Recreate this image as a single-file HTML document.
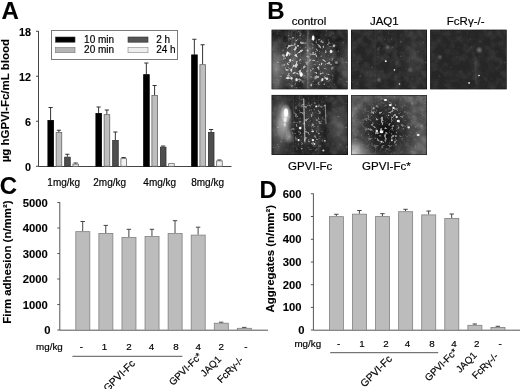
<!DOCTYPE html>
<html><head><meta charset="utf-8"><style>
html,body{margin:0;padding:0;background:#fff;}
svg{display:block;will-change:transform;}
text{stroke:#000;stroke-width:0.18px;paint-order:stroke;}
text[font-weight=bold]{stroke-width:0.1px;}
</style></head><body>
<svg width="520" height="389" viewBox="0 0 520 389" font-family='Liberation Sans'>
<defs>
<radialGradient id='gw'><stop offset='0' stop-color='#fff' stop-opacity='1'/><stop offset='0.5' stop-color='#fff' stop-opacity='0.5'/><stop offset='1' stop-color='#fff' stop-opacity='0'/></radialGradient>
<radialGradient id='gw2'><stop offset='0' stop-color='#fff' stop-opacity='1'/><stop offset='0.6' stop-color='#fff' stop-opacity='0.8'/><stop offset='1' stop-color='#fff' stop-opacity='0'/></radialGradient>
<radialGradient id='gk'><stop offset='0' stop-color='#000' stop-opacity='1'/><stop offset='0.5' stop-color='#000' stop-opacity='0.6'/><stop offset='1' stop-color='#000' stop-opacity='0'/></radialGradient>
<filter id='nz0' x='0' y='0' width='100%' height='100%'><feTurbulence type='fractalNoise' baseFrequency='0.25 0.06' numOctaves='2' seed='2'/><feColorMatrix type='matrix' values='0 0 0 0 1  0 0 0 0 1  0 0 0 0 1  1.6 0 0 0 -0.55'/><feGaussianBlur stdDeviation='0.5'/></filter>
<filter id='nz1' x='0' y='0' width='100%' height='100%'><feTurbulence type='fractalNoise' baseFrequency='0.25 0.06' numOctaves='2' seed='3'/><feColorMatrix type='matrix' values='0 0 0 0 1  0 0 0 0 1  0 0 0 0 1  1.6 0 0 0 -0.55'/><feGaussianBlur stdDeviation='0.5'/></filter>
<filter id='nz2' x='0' y='0' width='100%' height='100%'><feTurbulence type='fractalNoise' baseFrequency='0.25 0.06' numOctaves='2' seed='4'/><feColorMatrix type='matrix' values='0 0 0 0 1  0 0 0 0 1  0 0 0 0 1  1.6 0 0 0 -0.55'/><feGaussianBlur stdDeviation='0.5'/></filter>
<filter id='nzm' x='0' y='0' width='100%' height='100%'><feTurbulence type='fractalNoise' baseFrequency='0.12' numOctaves='3' seed='7'/><feColorMatrix type='matrix' values='0 0 0 0 1  0 0 0 0 1  0 0 0 0 1  2.2 0 0 0 -0.85'/><feGaussianBlur stdDeviation='0.6'/></filter>
<filter id='blall' x='-5%' y='-5%' width='110%' height='110%'><feGaussianBlur stdDeviation='0.4'/></filter>
<filter id='bl5' x='-20%' y='-20%' width='140%' height='140%'><feGaussianBlur stdDeviation='0.6'/></filter>
<filter id='bl6' x='-20%' y='-20%' width='140%' height='140%'><feGaussianBlur stdDeviation='0.7'/></filter>
<filter id='s1' x='0' y='0' width='100%' height='100%'><feTurbulence type='fractalNoise' baseFrequency='0.26' numOctaves='3' seed='11' result='n'/><feColorMatrix in='n' type='matrix' values='0 0 0 0 1 0 0 0 0 1 0 0 0 0 1 8 0 0 0 -4.5' result='t'/><feComposite in='t' in2='SourceGraphic' operator='in'/><feGaussianBlur stdDeviation='0.6'/></filter>
<filter id='s1b' x='0' y='0' width='100%' height='100%'><feTurbulence type='fractalNoise' baseFrequency='0.3' numOctaves='3' seed='12' result='n'/><feColorMatrix in='n' type='matrix' values='0 0 0 0 1 0 0 0 0 1 0 0 0 0 1 8 0 0 0 -4.6' result='t'/><feComposite in='t' in2='SourceGraphic' operator='in'/><feGaussianBlur stdDeviation='0.6'/></filter>
<filter id='s2' x='0' y='0' width='100%' height='100%'><feTurbulence type='fractalNoise' baseFrequency='0.35' numOctaves='2' seed='13' result='n'/><feColorMatrix in='n' type='matrix' values='0 0 0 0 1 0 0 0 0 1 0 0 0 0 1 10 0 0 0 -7.2' result='t'/><feComposite in='t' in2='SourceGraphic' operator='in'/><feGaussianBlur stdDeviation='0.6'/></filter>
<filter id='s4' x='0' y='0' width='100%' height='100%'><feTurbulence type='fractalNoise' baseFrequency='0.3' numOctaves='3' seed='14' result='n'/><feColorMatrix in='n' type='matrix' values='0 0 0 0 1 0 0 0 0 1 0 0 0 0 1 8 0 0 0 -4.7' result='t'/><feComposite in='t' in2='SourceGraphic' operator='in'/><feGaussianBlur stdDeviation='0.6'/></filter>
<filter id='s5' x='0' y='0' width='100%' height='100%'><feTurbulence type='fractalNoise' baseFrequency='0.3' numOctaves='3' seed='15' result='n'/><feColorMatrix in='n' type='matrix' values='0 0 0 0 1 0 0 0 0 1 0 0 0 0 1 8 0 0 0 -4.6' result='t'/><feComposite in='t' in2='SourceGraphic' operator='in'/><feGaussianBlur stdDeviation='0.6'/></filter>
<filter id='s5b' x='0' y='0' width='100%' height='100%'><feTurbulence type='fractalNoise' baseFrequency='0.3' numOctaves='3' seed='16' result='n'/><feColorMatrix in='n' type='matrix' values='0 0 0 0 1 0 0 0 0 1 0 0 0 0 1 10 0 0 0 -6.6' result='t'/><feComposite in='t' in2='SourceGraphic' operator='in'/><feGaussianBlur stdDeviation='0.6'/></filter>
<clipPath id='ci1'><rect width='76.4' height='60'/></clipPath>
<g id='i1' clip-path='url(#ci1)'><g filter='url(#blall)'>
<rect width='76.4' height='60' fill='#1e1e1e'/>
<rect width='76.4' height='60' filter='url(#nzm)' opacity='0.14'/>
<ellipse cx='5' cy='40' rx='14' ry='36' fill='url(#gw)' opacity='0.42'/>
<ellipse cx='22' cy='32' rx='13' ry='32' fill='url(#gw)' opacity='0.28'/>
<ellipse cx='37' cy='34' rx='9' ry='42' fill='url(#gw)' opacity='0.3'/>
<ellipse cx='53' cy='36' rx='14' ry='30' fill='url(#gw)' opacity='0.22'/>
<ellipse cx='74' cy='38' rx='10' ry='30' fill='url(#gw)' opacity='0.22'/>
<g filter='url(#bl6)'>
<line x1='20.5' y1='2' x2='20.5' y2='58' stroke='#fff' stroke-width='0.8' opacity='0.14' stroke-linecap='round'/>
<line x1='23.8' y1='0' x2='23.8' y2='59' stroke='#fff' stroke-width='0.7' opacity='0.12' stroke-linecap='round'/>
<line x1='36.5' y1='0' x2='36.5' y2='59' stroke='#fff' stroke-width='1.0' opacity='0.25' stroke-linecap='round'/>
<line x1='38.5' y1='10' x2='38.5' y2='59' stroke='#fff' stroke-width='0.7' opacity='0.12' stroke-linecap='round'/>
<line x1='29' y1='0' x2='29' y2='30' stroke='#fff' stroke-width='0.6' opacity='0.08' stroke-linecap='round'/>
<line x1='17' y1='0' x2='17' y2='40' stroke='#fff' stroke-width='0.6' opacity='0.08' stroke-linecap='round'/>
</g>
<ellipse cx='24' cy='30' rx='15' ry='33' fill='url(#gw2)' filter='url(#s1)' opacity='0.8'/>
<ellipse cx='50' cy='32' rx='15' ry='31' fill='url(#gw2)' filter='url(#s1b)' opacity='0.7'/>
<rect x='0' y='0' width='76.4' height='60' fill='#fff' filter='url(#s2)' opacity='0.3'/>
<g filter='url(#bl5)' fill='#fff'>
<ellipse cx='41.8' cy='8.5' rx='1.3' ry='2.7' opacity='1'/>
<ellipse cx='15.8' cy='24.5' rx='1.1' ry='2.6' opacity='0.95' transform='rotate(15 15.8 24.5)'/>
<ellipse cx='18.8' cy='30.8' rx='1.0' ry='1.5' opacity='0.85'/>
<ellipse cx='19.8' cy='40.5' rx='1.0' ry='1.6' opacity='0.8'/>
<ellipse cx='29.8' cy='45.2' rx='1.6' ry='2.1' opacity='1'/>
<ellipse cx='25.2' cy='50.2' rx='1.2' ry='1.6' opacity='0.9'/>
<ellipse cx='16.5' cy='48.6' rx='2.1' ry='1.1' opacity='0.85'/>
<ellipse cx='20' cy='49' rx='1.2' ry='1' opacity='0.7'/>
<ellipse cx='59.7' cy='22' rx='1.4' ry='1.8' opacity='0.9'/>
<ellipse cx='62.6' cy='16.2' rx='1.3' ry='1.3' opacity='0.65'/>
<ellipse cx='51' cy='50' rx='1.0' ry='1.5' opacity='0.9'/>
<ellipse cx='55.6' cy='49.3' rx='1.2' ry='1.2' opacity='0.85'/>
<ellipse cx='36.2' cy='21' rx='1.0' ry='1.0' opacity='0.6'/>
<ellipse cx='11.8' cy='25.8' rx='1.3' ry='1.3' opacity='0.5'/>
<ellipse cx='65' cy='33' rx='1.6' ry='1.6' opacity='0.4'/>
<ellipse cx='23.4' cy='14.6' rx='0.9' ry='0.9' opacity='0.6'/>
<ellipse cx='39.8' cy='55.5' rx='0.8' ry='1.6' opacity='0.65'/>
</g>
</g>
<rect x='0.4' y='0.4' width='75.60000000000001' height='59.2' fill='none' stroke='#111' stroke-width='0.8' opacity='0.7'/>
</g>
<clipPath id='ci2'><rect width='76' height='60'/></clipPath>
<g id='i2' clip-path='url(#ci2)'><g filter='url(#blall)'>
<rect width='76' height='60' fill='#272727'/>
<rect width='76' height='60' filter='url(#nzm)' opacity='0.1'/>
<ellipse cx='64' cy='30' rx='16' ry='34' fill='url(#gw)' opacity='0.08'/>
<ellipse cx='20' cy='45' rx='14' ry='14' fill='url(#gw)' opacity='0.05'/>
<ellipse cx='36.7' cy='17.8' rx='2.8' ry='2.8' fill='url(#gw)' opacity='0.28'/>
<ellipse cx='28' cy='50.3' rx='2.8' ry='2.8' fill='url(#gw)' opacity='0.28'/>
<ellipse cx='59.4' cy='40.4' rx='3.2' ry='3.2' fill='url(#gw)' opacity='0.2'/>
<ellipse cx='27.3' cy='19.7' rx='2.2' ry='2.2' fill='url(#gw)' opacity='0.18'/>
<g filter='url(#bl6)'>
<line x1='24' y1='0' x2='24' y2='59' stroke='#fff' stroke-width='0.8' opacity='0.05' stroke-linecap='round'/>
<line x1='45' y1='0' x2='45' y2='59' stroke='#fff' stroke-width='0.8' opacity='0.05' stroke-linecap='round'/>
</g>
<rect x='0' y='0' width='76' height='60' fill='#fff' filter='url(#s2)' opacity='0.15'/>
<g filter='url(#bl5)' fill='#fff'>
<circle cx='34.8' cy='31.7' r='0.9' opacity='1'/>
<circle cx='43.4' cy='40.4' r='0.8' opacity='0.9'/>
<circle cx='48.5' cy='54.5' r='0.8' opacity='0.95'/>
</g>
</g>
<rect x='0.4' y='0.4' width='75.2' height='59.2' fill='none' stroke='#111' stroke-width='0.8' opacity='0.7'/>
</g>
<clipPath id='ci3'><rect width='76.7' height='60'/></clipPath>
<g id='i3' clip-path='url(#ci3)'><g filter='url(#blall)'>
<rect width='76.7' height='60' fill='#262626'/>
<rect width='76.7' height='60' filter='url(#nzm)' opacity='0.08'/>
<ellipse cx='49.2' cy='20.4' rx='3.8' ry='3.8' fill='url(#gw)' opacity='0.38'/>
<ellipse cx='10' cy='27.5' rx='2.8' ry='2.8' fill='url(#gw)' opacity='0.25'/>
<ellipse cx='46' cy='40' rx='6' ry='14' fill='url(#gw)' opacity='0.06'/>
<g filter='url(#bl6)'>
<line x1='45' y1='28' x2='46' y2='54' stroke='#fff' stroke-width='1.4' opacity='0.06' stroke-linecap='round'/>
</g>
<rect x='0' y='0' width='76.7' height='60' fill='#fff' filter='url(#s2)' opacity='0.08'/>
<g filter='url(#bl5)' fill='#fff'>
<circle cx='48.9' cy='46' r='0.8' opacity='1'/>
<circle cx='39' cy='53.4' r='0.9' opacity='0.9'/>
</g>
</g>
<rect x='0.4' y='0.4' width='75.9' height='59.2' fill='none' stroke='#111' stroke-width='0.8' opacity='0.7'/>
</g>
<clipPath id='ci4'><rect width='76.6' height='60.2'/></clipPath>
<g id='i4' clip-path='url(#ci4)'><g filter='url(#blall)'>
<rect width='76.6' height='60.2' fill='#232323'/>
<rect width='76.6' height='60.2' filter='url(#nzm)' opacity='0.12'/>
<ellipse cx='8' cy='32' rx='12' ry='40' fill='url(#gw)' opacity='0.32'/>
<ellipse cx='13' cy='27' rx='9' ry='22' fill='url(#gw)' opacity='0.6'/>
<ellipse cx='14.5' cy='19' rx='6' ry='10' fill='url(#gw)' opacity='0.85'/>
<ellipse cx='18' cy='42' rx='5' ry='8' fill='url(#gw)' opacity='0.45'/>
<ellipse cx='40' cy='30' rx='14' ry='30' fill='url(#gw)' opacity='0.08'/>
<ellipse cx='68' cy='32' rx='14' ry='34' fill='url(#gw)' opacity='0.22'/>
<g filter='url(#bl6)'>
<line x1='32.3' y1='4' x2='33.5' y2='47' stroke='#fff' stroke-width='1.3' opacity='0.55' stroke-linecap='round'/>
<line x1='53.8' y1='10' x2='54.6' y2='29' stroke='#fff' stroke-width='1.1' opacity='0.4' stroke-linecap='round'/>
<line x1='22' y1='0' x2='22' y2='59' stroke='#fff' stroke-width='0.6' opacity='0.12' stroke-linecap='round'/>
<line x1='47' y1='0' x2='47' y2='59' stroke='#fff' stroke-width='0.6' opacity='0.1' stroke-linecap='round'/>
<line x1='28' y1='0' x2='28' y2='20' stroke='#fff' stroke-width='0.6' opacity='0.12' stroke-linecap='round'/>
</g>
<ellipse cx='37' cy='30' rx='22' ry='34' fill='url(#gw2)' filter='url(#s4)' opacity='0.5'/>
<rect x='0' y='0' width='76.6' height='60.2' fill='#fff' filter='url(#s2)' opacity='0.25'/>
<g filter='url(#bl5)' fill='#fff'>
<ellipse cx='14.6' cy='18' rx='2.0' ry='4.2' opacity='1'/>
<ellipse cx='13.8' cy='25' rx='1.6' ry='2.5' opacity='0.7'/>
<ellipse cx='13.5' cy='30' rx='1.3' ry='2' opacity='0.5'/>
<circle cx='28.8' cy='33.3' r='1.3' opacity='1'/>
<circle cx='27.2' cy='45.3' r='1.1' opacity='0.95'/>
<circle cx='41.5' cy='45.3' r='1.2' opacity='0.95'/>
<circle cx='44.7' cy='11.8' r='1' opacity='0.85'/>
<circle cx='43.1' cy='49.2' r='0.9' opacity='0.85'/>
<circle cx='53.5' cy='46' r='0.9' opacity='0.75'/>
<circle cx='51.9' cy='55.6' r='1' opacity='0.75'/>
<circle cx='30.4' cy='54' r='0.8' opacity='0.65'/>
<circle cx='45.5' cy='25.3' r='0.8' opacity='0.75'/>
<circle cx='41.5' cy='36.5' r='0.9' opacity='0.75'/>
<circle cx='53.5' cy='11' r='0.8' opacity='0.65'/>
</g>
</g>
<rect x='0.4' y='0.4' width='75.8' height='59.400000000000006' fill='none' stroke='#111' stroke-width='0.8' opacity='0.7'/>
</g>
<clipPath id='ci5'><rect width='76.2' height='60.2'/></clipPath>
<g id='i5' clip-path='url(#ci5)'><g filter='url(#blall)'>
<rect width='76.2' height='60.2' fill='#4e4e4e'/>
<rect width='76.2' height='60.2' filter='url(#nzm)' opacity='0.2'/>
<ellipse cx='35' cy='34' rx='32' ry='40' fill='url(#gk)' opacity='0.75'/>
<ellipse cx='33' cy='42' rx='16' ry='20' fill='url(#gk)' opacity='0.35'/>
<ellipse cx='2' cy='58' rx='18' ry='16' fill='url(#gw)' opacity='0.65'/>
<ellipse cx='14' cy='63' rx='24' ry='5' fill='url(#gw)' opacity='0.5'/>
<ellipse cx='70' cy='52' rx='10' ry='14' fill='url(#gw)' opacity='0.1'/>
<ellipse cx='2' cy='18' rx='8' ry='20' fill='url(#gw)' opacity='0.08'/>
<ellipse cx='40' cy='2' rx='20' ry='4' fill='url(#gw)' opacity='0.15'/>
<ellipse cx='34' cy='30' rx='25' ry='30' fill='url(#gw2)' filter='url(#s5)' opacity='0.6'/>
<rect x='0' y='0' width='76.2' height='60.2' fill='#fff' filter='url(#s5b)' opacity='0.12'/>
<g filter='url(#bl5)' fill='#fff'>
<ellipse cx='34.6' cy='5.1' rx='1.7' ry='1.1' opacity='1'/>
<ellipse cx='39.4' cy='10.2' rx='1.5' ry='1.1' opacity='0.95'/>
<ellipse cx='42.6' cy='13' rx='1.2' ry='1.1' opacity='0.95'/>
<ellipse cx='45.8' cy='22.1' rx='1.2' ry='1.1' opacity='0.9'/>
<ellipse cx='47.4' cy='26.1' rx='1.6' ry='1.3' opacity='0.95'/>
<ellipse cx='30.6' cy='37' rx='1.9' ry='1.3' opacity='0.95'/>
<ellipse cx='25.9' cy='36' rx='1.2' ry='1.2' opacity='0.9'/>
<ellipse cx='57.8' cy='32.5' rx='1.3' ry='1.1' opacity='0.85'/>
<ellipse cx='67.3' cy='40.1' rx='1.5' ry='1.1' opacity='0.95'/>
<ellipse cx='30.6' cy='46.8' rx='1.1' ry='1' opacity='0.85'/>
<ellipse cx='41' cy='45.3' rx='1' ry='1' opacity='0.85'/>
<ellipse cx='22.7' cy='13.4' rx='1' ry='1' opacity='0.65'/>
</g>
</g>
<rect x='0.4' y='0.4' width='75.4' height='59.400000000000006' fill='none' stroke='#111' stroke-width='0.8' opacity='0.7'/>
</g>
</defs>
<rect width="520" height="389" fill="#fff"/>
<text x='1.5' y='19.3' font-size='24' font-weight='bold' text-anchor='start' fill='#000' >A</text>
<line x1='38.5' y1='31' x2='38.5' y2='166.5' stroke='#444' stroke-width='1'/>
<line x1='36.0' y1='31.25' x2='38.5' y2='31.25' stroke='#444' stroke-width='1'/>
<text x='31' y='35.55' font-size='10.8' font-weight='bold' text-anchor='end' fill='#000' >18</text>
<line x1='36.0' y1='76.25' x2='38.5' y2='76.25' stroke='#444' stroke-width='1'/>
<text x='31' y='80.55' font-size='10.8' font-weight='bold' text-anchor='end' fill='#000' >12</text>
<line x1='36.0' y1='121.25' x2='38.5' y2='121.25' stroke='#444' stroke-width='1'/>
<text x='31' y='125.55' font-size='10.8' font-weight='bold' text-anchor='end' fill='#000' >6</text>
<line x1='36.0' y1='166.25' x2='38.5' y2='166.25' stroke='#444' stroke-width='1'/>
<text x='31' y='170.55' font-size='10.8' font-weight='bold' text-anchor='end' fill='#000' >0</text>
<line x1='38.5' y1='166.5' x2='231.5' y2='166.5' stroke='#444' stroke-width='1'/>
<text transform='translate(9.3,100.6) rotate(-90)' font-size='11.4' font-weight='bold' text-anchor='middle' textLength='123.5' lengthAdjust='spacingAndGlyphs'>µg hGPVI-Fc/mL blood</text>
<rect x='51.5' y='30.5' width='126' height='29' fill='#fff' stroke='#7a7a7a' stroke-width='1'/>
<rect x='55.5' y='37' width='19.5' height='5.2' fill='#000' stroke='#333' stroke-width='0.6'/>
<rect x='55.5' y='47.5' width='19.5' height='5.2' fill='#b4b4b4' stroke='#777' stroke-width='0.6'/>
<rect x='128' y='37' width='20' height='5.2' fill='#555' stroke='#333' stroke-width='0.6'/>
<rect x='128' y='47.5' width='20' height='5.2' fill='#eee' stroke='#888' stroke-width='0.6'/>
<text x='84.1' y='43.4' font-size='10' text-anchor='start' fill='#000' >10 min</text>
<text x='84.1' y='53.3' font-size='10' text-anchor='start' fill='#000' >20 min</text>
<text x='156.2' y='43.4' font-size='10' text-anchor='start' fill='#000' >2 h</text>
<text x='156.2' y='53.3' font-size='10' text-anchor='start' fill='#000' >24 h</text>
<line x1='50.6' y1='107.5' x2='50.6' y2='120' stroke='#333' stroke-width='1'/>
<line x1='48.5' y1='107.5' x2='52.7' y2='107.5' stroke='#333' stroke-width='1'/>
<rect x='47.9' y='120.4' width='5.6' height='45.85' fill='#000' stroke='#000' stroke-width='0.8'/>
<line x1='58.85' y1='130.25' x2='58.85' y2='132' stroke='#333' stroke-width='1'/>
<line x1='56.75' y1='130.25' x2='60.95' y2='130.25' stroke='#333' stroke-width='1'/>
<rect x='56.15' y='132.4' width='5.6' height='33.85' fill='#bebebe' stroke='#666' stroke-width='0.8'/>
<line x1='67.35' y1='154.25' x2='67.35' y2='156.75' stroke='#333' stroke-width='1'/>
<line x1='65.25' y1='154.25' x2='69.44999999999999' y2='154.25' stroke='#333' stroke-width='1'/>
<rect x='64.65' y='157.15' width='5.6' height='9.1' fill='#4e4e4e' stroke='#333' stroke-width='0.8'/>
<line x1='75.6' y1='163' x2='75.6' y2='163.75' stroke='#333' stroke-width='1'/>
<line x1='73.5' y1='163' x2='77.69999999999999' y2='163' stroke='#333' stroke-width='1'/>
<rect x='72.9' y='164.15' width='5.6' height='2.1' fill='#f2f2f2' stroke='#666' stroke-width='0.8'/>
<line x1='98.6' y1='107' x2='98.6' y2='113' stroke='#333' stroke-width='1'/>
<line x1='96.5' y1='107' x2='100.69999999999999' y2='107' stroke='#333' stroke-width='1'/>
<rect x='95.9' y='113.4' width='5.6' height='52.85' fill='#000' stroke='#000' stroke-width='0.8'/>
<line x1='106.85' y1='110' x2='106.85' y2='114.25' stroke='#333' stroke-width='1'/>
<line x1='104.75' y1='110' x2='108.94999999999999' y2='110' stroke='#333' stroke-width='1'/>
<rect x='104.15' y='114.65' width='5.6' height='51.6' fill='#bebebe' stroke='#666' stroke-width='0.8'/>
<line x1='115.35' y1='132' x2='115.35' y2='140' stroke='#333' stroke-width='1'/>
<line x1='113.25' y1='132' x2='117.44999999999999' y2='132' stroke='#333' stroke-width='1'/>
<rect x='112.65' y='140.4' width='5.6' height='25.85' fill='#4e4e4e' stroke='#333' stroke-width='0.8'/>
<line x1='123.6' y1='157.5' x2='123.6' y2='158.25' stroke='#333' stroke-width='1'/>
<line x1='121.5' y1='157.5' x2='125.69999999999999' y2='157.5' stroke='#333' stroke-width='1'/>
<rect x='120.9' y='158.65' width='5.6' height='7.6' fill='#f2f2f2' stroke='#666' stroke-width='0.8'/>
<line x1='146.35' y1='63' x2='146.35' y2='74.25' stroke='#333' stroke-width='1'/>
<line x1='144.25' y1='63' x2='148.45' y2='63' stroke='#333' stroke-width='1'/>
<rect x='143.65' y='74.65' width='5.6' height='91.6' fill='#000' stroke='#000' stroke-width='0.8'/>
<line x1='154.6' y1='85.5' x2='154.6' y2='95' stroke='#333' stroke-width='1'/>
<line x1='152.5' y1='85.5' x2='156.7' y2='85.5' stroke='#333' stroke-width='1'/>
<rect x='151.9' y='95.4' width='5.6' height='70.85' fill='#bebebe' stroke='#666' stroke-width='0.8'/>
<line x1='163.1' y1='146' x2='163.1' y2='146.75' stroke='#333' stroke-width='1'/>
<line x1='161.0' y1='146' x2='165.2' y2='146' stroke='#333' stroke-width='1'/>
<rect x='160.4' y='147.15' width='5.6' height='19.1' fill='#4e4e4e' stroke='#333' stroke-width='0.8'/>
<rect x='168.65' y='163.65' width='5.6' height='2.6' fill='#f2f2f2' stroke='#666' stroke-width='0.8'/>
<line x1='194.35' y1='39.25' x2='194.35' y2='54.5' stroke='#333' stroke-width='1'/>
<line x1='192.25' y1='39.25' x2='196.45' y2='39.25' stroke='#333' stroke-width='1'/>
<rect x='191.65' y='54.9' width='5.6' height='111.35' fill='#000' stroke='#000' stroke-width='0.8'/>
<line x1='202.6' y1='44.75' x2='202.6' y2='64.25' stroke='#333' stroke-width='1'/>
<line x1='200.5' y1='44.75' x2='204.7' y2='44.75' stroke='#333' stroke-width='1'/>
<rect x='199.9' y='64.65' width='5.6' height='101.6' fill='#bebebe' stroke='#666' stroke-width='0.8'/>
<line x1='211.1' y1='129.5' x2='211.1' y2='132' stroke='#333' stroke-width='1'/>
<line x1='209.0' y1='129.5' x2='213.2' y2='129.5' stroke='#333' stroke-width='1'/>
<rect x='208.4' y='132.4' width='5.6' height='33.85' fill='#4e4e4e' stroke='#333' stroke-width='0.8'/>
<line x1='219.35' y1='160' x2='219.35' y2='160.5' stroke='#333' stroke-width='1'/>
<line x1='217.25' y1='160' x2='221.45' y2='160' stroke='#333' stroke-width='1'/>
<rect x='216.65' y='160.9' width='5.6' height='5.35' fill='#f2f2f2' stroke='#666' stroke-width='0.8'/>
<text x='63.75' y='186.0' font-size='10' text-anchor='middle' fill='#000' >1mg/kg</text>
<text x='109.7' y='186.0' font-size='10' text-anchor='middle' fill='#000' >2mg/kg</text>
<text x='159.75' y='186.0' font-size='10' text-anchor='middle' fill='#000' >4mg/kg</text>
<text x='207.6' y='186.0' font-size='10' text-anchor='middle' fill='#000' >8mg/kg</text>
<text x='267.3' y='18.8' font-size='24' font-weight='bold' text-anchor='start' fill='#000' >B</text>
<text x='309.05' y='24.85' font-size='11.5' text-anchor='middle' fill='#000' >control</text>
<text x='384.35' y='24.85' font-size='11.5' text-anchor='middle' fill='#000' >JAQ1</text>
<text x='465.65' y='24.85' font-size='11.5' text-anchor='middle' fill='#000' >FcRγ-/-</text>
<text x='310.25' y='170.0' font-size='11.55' text-anchor='middle' fill='#000' >GPVI-Fc</text>
<text x='386.4' y='170.0' font-size='11.55' text-anchor='middle' fill='#000' >GPVI-Fc*</text>
<g transform='translate(271.4,29.5)'><use href='#i1'/></g>
<g transform='translate(351,29.5)'><use href='#i2'/></g>
<g transform='translate(430.1,29.5)'><use href='#i3'/></g>
<g transform='translate(271.4,94.8)'><use href='#i4'/></g>
<g transform='translate(350.9,94.9)'><use href='#i5'/></g>
<text x='-0.3' y='194.1' font-size='24' font-weight='bold' text-anchor='start' fill='#000' >C</text>
<line x1='59.8' y1='202' x2='59.8' y2='330.2' stroke='#555' stroke-width='1'/>
<line x1='57.3' y1='202.5' x2='59.8' y2='202.5' stroke='#555' stroke-width='1'/>
<text transform='translate(47.8,206.6) scale(1.045,1)' font-size='10.8' font-weight='bold' text-anchor='end' fill='#000' >5000</text>
<line x1='57.3' y1='228' x2='59.8' y2='228' stroke='#555' stroke-width='1'/>
<text transform='translate(47.8,232.1) scale(1.045,1)' font-size='10.8' font-weight='bold' text-anchor='end' fill='#000' >4000</text>
<line x1='57.3' y1='253.5' x2='59.8' y2='253.5' stroke='#555' stroke-width='1'/>
<text transform='translate(47.8,257.6) scale(1.045,1)' font-size='10.8' font-weight='bold' text-anchor='end' fill='#000' >3000</text>
<line x1='57.3' y1='279' x2='59.8' y2='279' stroke='#555' stroke-width='1'/>
<text transform='translate(47.8,283.1) scale(1.045,1)' font-size='10.8' font-weight='bold' text-anchor='end' fill='#000' >2000</text>
<line x1='57.3' y1='304.5' x2='59.8' y2='304.5' stroke='#555' stroke-width='1'/>
<text transform='translate(47.8,308.6) scale(1.045,1)' font-size='10.8' font-weight='bold' text-anchor='end' fill='#000' >1000</text>
<line x1='57.3' y1='330' x2='59.8' y2='330' stroke='#555' stroke-width='1'/>
<text transform='translate(50.4,334.1) scale(1.045,1)' font-size='10.8' font-weight='bold' text-anchor='end' fill='#000' >0</text>
<line x1='59.8' y1='330.2' x2='268' y2='330.2' stroke='#555' stroke-width='1'/>
<text transform='translate(11.0,262.1) rotate(-90)' font-size='11.5' font-weight='bold' text-anchor='middle' textLength='123.3' lengthAdjust='spacingAndGlyphs'>Firm adhesion (n/mm²)</text>
<line x1='82.69999999999999' y1='221.5' x2='82.69999999999999' y2='231.25' stroke='#444' stroke-width='1'/>
<line x1='80.49999999999999' y1='221.5' x2='84.89999999999999' y2='221.5' stroke='#444' stroke-width='1'/>
<rect x='75.8' y='231.65' width='14.0' height='98.54999999999998' fill='#bcbcbc' stroke='#808080' stroke-width='0.8'/>
<line x1='105.77999999999999' y1='225.4' x2='105.77999999999999' y2='233' stroke='#444' stroke-width='1'/>
<line x1='103.57999999999998' y1='225.4' x2='107.97999999999999' y2='225.4' stroke='#444' stroke-width='1'/>
<rect x='98.88' y='233.4' width='14.0' height='96.79999999999998' fill='#bcbcbc' stroke='#808080' stroke-width='0.8'/>
<line x1='128.85999999999999' y1='229.3' x2='128.85999999999999' y2='237.1' stroke='#444' stroke-width='1'/>
<line x1='126.65999999999998' y1='229.3' x2='131.05999999999997' y2='229.3' stroke='#444' stroke-width='1'/>
<rect x='121.96' y='237.5' width='14.0' height='92.69999999999999' fill='#bcbcbc' stroke='#808080' stroke-width='0.8'/>
<line x1='151.94' y1='229.3' x2='151.94' y2='236' stroke='#444' stroke-width='1'/>
<line x1='149.74' y1='229.3' x2='154.14' y2='229.3' stroke='#444' stroke-width='1'/>
<rect x='145.04' y='236.4' width='14.0' height='93.79999999999998' fill='#bcbcbc' stroke='#808080' stroke-width='0.8'/>
<line x1='175.01999999999998' y1='220.7' x2='175.01999999999998' y2='233.1' stroke='#444' stroke-width='1'/>
<line x1='172.82' y1='220.7' x2='177.21999999999997' y2='220.7' stroke='#444' stroke-width='1'/>
<rect x='168.11999999999998' y='233.5' width='14.0' height='96.69999999999999' fill='#bcbcbc' stroke='#808080' stroke-width='0.8'/>
<line x1='198.1' y1='227.2' x2='198.1' y2='234.7' stroke='#444' stroke-width='1'/>
<line x1='195.9' y1='227.2' x2='200.29999999999998' y2='227.2' stroke='#444' stroke-width='1'/>
<rect x='191.2' y='235.1' width='14.0' height='95.1' fill='#bcbcbc' stroke='#808080' stroke-width='0.8'/>
<line x1='221.18' y1='322.2' x2='221.18' y2='322.8' stroke='#444' stroke-width='1'/>
<line x1='218.98000000000002' y1='322.2' x2='223.38' y2='322.2' stroke='#444' stroke-width='1'/>
<rect x='214.28' y='323.2' width='14.0' height='6.999999999999977' fill='#bcbcbc' stroke='#808080' stroke-width='0.8'/>
<line x1='244.26' y1='327.4' x2='244.26' y2='327.9' stroke='#444' stroke-width='1'/>
<line x1='242.06' y1='327.4' x2='246.45999999999998' y2='327.4' stroke='#444' stroke-width='1'/>
<rect x='237.35999999999999' y='328.29999999999995' width='14.0' height='1.9000000000000115' fill='#bcbcbc' stroke='#808080' stroke-width='0.8'/>
<text x='49.4' y='350.3' font-size='9.8' text-anchor='middle' fill='#000' >mg/kg</text>
<text x='81.3' y='350.3' font-size='9.8' text-anchor='middle' fill='#000' >-</text>
<text x='104.6' y='350.3' font-size='9.8' text-anchor='middle' fill='#000' >1</text>
<text x='128.9' y='350.3' font-size='9.8' text-anchor='middle' fill='#000' >2</text>
<text x='151.5' y='350.3' font-size='9.8' text-anchor='middle' fill='#000' >4</text>
<text x='176.1' y='350.3' font-size='9.8' text-anchor='middle' fill='#000' >8</text>
<text x='198.3' y='350.3' font-size='9.8' text-anchor='middle' fill='#000' >4</text>
<text x='221.3' y='350.3' font-size='9.8' text-anchor='middle' fill='#000' >2</text>
<text x='246.0' y='350.3' font-size='9.8' text-anchor='middle' fill='#000' >-</text>
<line x1='72.4' y1='356.3' x2='182.4' y2='356.3' stroke='#555' stroke-width='1'/>
<text transform='translate(135.8,364) rotate(-45)' font-size='10.4' text-anchor='end'>GPVI-Fc</text>
<text transform='translate(202.3,356.8) rotate(-45)' font-size='9.8' text-anchor='end'>GPVI-Fc*</text>
<text transform='translate(221.8,359.9) rotate(-45)' font-size='9.8' text-anchor='end'>JAQ1</text>
<text transform='translate(243.9,360.8) rotate(-45)' font-size='9.8' text-anchor='end'>FcRγ-/-</text>
<text x='259.5' y='198' font-size='24' font-weight='bold' text-anchor='start' fill='#000' >D</text>
<line x1='313.4' y1='193.5' x2='313.4' y2='330.2' stroke='#555' stroke-width='1'/>
<line x1='310.9' y1='193.75' x2='313.4' y2='193.75' stroke='#555' stroke-width='1'/>
<text transform='translate(301.6,197.8) scale(1.045,1)' font-size='10.8' font-weight='bold' text-anchor='end' fill='#000' >600</text>
<line x1='310.9' y1='216.5' x2='313.4' y2='216.5' stroke='#555' stroke-width='1'/>
<text transform='translate(301.6,220.5) scale(1.045,1)' font-size='10.8' font-weight='bold' text-anchor='end' fill='#000' >500</text>
<line x1='310.9' y1='239.3' x2='313.4' y2='239.3' stroke='#555' stroke-width='1'/>
<text transform='translate(301.6,243.3) scale(1.045,1)' font-size='10.8' font-weight='bold' text-anchor='end' fill='#000' >400</text>
<line x1='310.9' y1='262' x2='313.4' y2='262' stroke='#555' stroke-width='1'/>
<text transform='translate(301.6,266) scale(1.045,1)' font-size='10.8' font-weight='bold' text-anchor='end' fill='#000' >300</text>
<line x1='310.9' y1='284.7' x2='313.4' y2='284.7' stroke='#555' stroke-width='1'/>
<text transform='translate(301.6,288.7) scale(1.045,1)' font-size='10.8' font-weight='bold' text-anchor='end' fill='#000' >200</text>
<line x1='310.9' y1='307.4' x2='313.4' y2='307.4' stroke='#555' stroke-width='1'/>
<text transform='translate(301.6,311.4) scale(1.045,1)' font-size='10.8' font-weight='bold' text-anchor='end' fill='#000' >100</text>
<line x1='310.9' y1='330' x2='313.4' y2='330' stroke='#555' stroke-width='1'/>
<text transform='translate(304.5,334) scale(1.045,1)' font-size='10.8' font-weight='bold' text-anchor='end' fill='#000' >0</text>
<line x1='313.4' y1='330.2' x2='520' y2='330.2' stroke='#555' stroke-width='1'/>
<text transform='translate(274.3,258.7) rotate(-90)' font-size='11.5' font-weight='bold' text-anchor='middle' textLength='107.4' lengthAdjust='spacingAndGlyphs'>Aggregates (n/mm²)</text>
<line x1='336.3' y1='214.25' x2='336.3' y2='216.25' stroke='#444' stroke-width='1'/>
<line x1='334.1' y1='214.25' x2='338.5' y2='214.25' stroke='#444' stroke-width='1'/>
<rect x='329.4' y='216.65' width='14.0' height='113.54999999999998' fill='#bcbcbc' stroke='#808080' stroke-width='0.8'/>
<line x1='359.38' y1='210.5' x2='359.38' y2='213.75' stroke='#444' stroke-width='1'/>
<line x1='357.18' y1='210.5' x2='361.58' y2='210.5' stroke='#444' stroke-width='1'/>
<rect x='352.47999999999996' y='214.15' width='14.0' height='116.04999999999998' fill='#bcbcbc' stroke='#808080' stroke-width='0.8'/>
<line x1='382.46' y1='213.7' x2='382.46' y2='216.2' stroke='#444' stroke-width='1'/>
<line x1='380.26' y1='213.7' x2='384.65999999999997' y2='213.7' stroke='#444' stroke-width='1'/>
<rect x='375.55999999999995' y='216.6' width='14.0' height='113.6' fill='#bcbcbc' stroke='#808080' stroke-width='0.8'/>
<line x1='405.54' y1='209.3' x2='405.54' y2='211.3' stroke='#444' stroke-width='1'/>
<line x1='403.34000000000003' y1='209.3' x2='407.74' y2='209.3' stroke='#444' stroke-width='1'/>
<rect x='398.64' y='211.70000000000002' width='14.0' height='118.49999999999997' fill='#bcbcbc' stroke='#808080' stroke-width='0.8'/>
<line x1='428.62' y1='211' x2='428.62' y2='214.5' stroke='#444' stroke-width='1'/>
<line x1='426.42' y1='211' x2='430.82' y2='211' stroke='#444' stroke-width='1'/>
<rect x='421.71999999999997' y='214.9' width='14.0' height='115.29999999999998' fill='#bcbcbc' stroke='#808080' stroke-width='0.8'/>
<line x1='451.7' y1='214' x2='451.7' y2='218' stroke='#444' stroke-width='1'/>
<line x1='449.5' y1='214' x2='453.9' y2='214' stroke='#444' stroke-width='1'/>
<rect x='444.79999999999995' y='218.4' width='14.0' height='111.79999999999998' fill='#bcbcbc' stroke='#808080' stroke-width='0.8'/>
<line x1='474.78000000000003' y1='324' x2='474.78000000000003' y2='324.9' stroke='#444' stroke-width='1'/>
<line x1='472.58000000000004' y1='324' x2='476.98' y2='324' stroke='#444' stroke-width='1'/>
<rect x='467.88' y='325.29999999999995' width='14.0' height='4.900000000000011' fill='#bcbcbc' stroke='#808080' stroke-width='0.8'/>
<line x1='497.86' y1='326.3' x2='497.86' y2='327' stroke='#444' stroke-width='1'/>
<line x1='495.66' y1='326.3' x2='500.06' y2='326.3' stroke='#444' stroke-width='1'/>
<rect x='490.96' y='327.4' width='14.0' height='2.7999999999999887' fill='#bcbcbc' stroke='#808080' stroke-width='0.8'/>
<text x='307.8' y='347.1' font-size='9.8' text-anchor='middle' fill='#000' >mg/kg</text>
<text x='338.6' y='347.1' font-size='9.8' text-anchor='middle' fill='#000' >-</text>
<text x='361.9' y='347.1' font-size='9.8' text-anchor='middle' fill='#000' >1</text>
<text x='385.9' y='347.1' font-size='9.8' text-anchor='middle' fill='#000' >2</text>
<text x='407.5' y='347.1' font-size='9.8' text-anchor='middle' fill='#000' >4</text>
<text x='431.9' y='347.1' font-size='9.8' text-anchor='middle' fill='#000' >8</text>
<text x='454.1' y='347.1' font-size='9.8' text-anchor='middle' fill='#000' >4</text>
<text x='476.8' y='347.1' font-size='9.8' text-anchor='middle' fill='#000' >2</text>
<text x='500.2' y='347.1' font-size='9.8' text-anchor='middle' fill='#000' >-</text>
<line x1='330.2' y1='352.7' x2='438.2' y2='352.7' stroke='#555' stroke-width='1'/>
<text transform='translate(392.7,359.6) rotate(-45)' font-size='10.4' text-anchor='end'>GPVI-Fc</text>
<text transform='translate(458.0,352.5) rotate(-45)' font-size='9.8' text-anchor='end'>GPVI-Fc*</text>
<text transform='translate(477.4,355.9) rotate(-45)' font-size='9.8' text-anchor='end'>JAQ1</text>
<text transform='translate(498.8,356.9) rotate(-45)' font-size='9.8' text-anchor='end'>FcRγ-/-</text>
</svg>
</body></html>
